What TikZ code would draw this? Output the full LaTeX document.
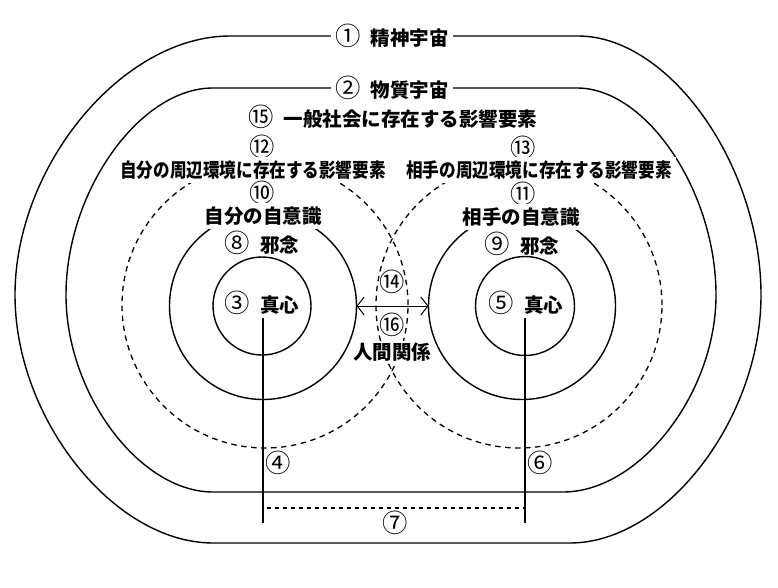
\documentclass[tikz,border=0pt]{standalone}
\usepackage{fontspec}
\usepackage{graphicx}
\setmainfont{Noto Sans CJK JP}
\usetikzlibrary{arrows.meta}
\newcommand{\circnum}[1]{{\mdseries\scalebox{1.3}{#1}}}
\newcommand{\cgap}{\hspace{0.5em}}
\begin{document}
\begin{tikzpicture}[x=1pt,y=-1pt,
  solidline/.style={line width=1.4pt},
  dashline/.style={line width=1.3pt, dash pattern=on 5.5pt off 4.5pt},
  ring/.style={circle, draw, line width=1.4pt, inner sep=0pt, outer sep=0pt},
  lbl/.style={font=\fontsize{19.5}{22}\selectfont\bfseries, inner sep=0pt},
  cover/.style={lbl, fill=white, inner sep=4pt},
  arrowline/.style={line width=1pt, {Straight Barb[length=7pt,width=18pt]}-{Straight Barb[length=7pt,width=18pt]}}
]
\useasboundingbox (0,0) rectangle (778,588);
\fill[white] (0,0) rectangle (778,588);

% (1) spiritual universe
\draw[solidline] (230,36) -- (578,36)
  .. controls (669.5,36) and (761,165.5) .. (761,295)
  .. controls (761,419) and (665.5,543) .. (570,543)
  -- (213,543)
  .. controls (114,543) and (15,419) .. (15,295)
  .. controls (15,165.5) and (122.5,36) .. cycle;
% (2) material universe
\draw[solidline] (213,88) -- (577,88)
  .. controls (646.5,88) and (716,191.5) .. (716,295)
  .. controls (716,393.5) and (639.5,492) .. (563,492)
  -- (213,492)
  .. controls (139.5,492) and (66,393.5) .. (66,295)
  .. controls (66,191.5) and (139.5,88) .. cycle;

% surroundings (dashed)
\draw[dashline] (265,305) circle[radius=143pt];
\draw[dashline] (519,305) circle[radius=143pt];

% self-consciousness circles and cores
\node[ring, minimum size=187pt] (selfL) at (263,306) {};
\node[ring, minimum size=187pt] (selfR) at (522,306) {};
\node[ring, minimum size=98pt] (coreL) at (262,306) {};
\node[ring, minimum size=99pt] (coreR) at (525,306) {};

% relation arrow
\draw[arrowline] (selfL.east) -- (selfR.west);

% vertical lines and distance
\coordinate (top4) at (263,318);
\coordinate (bot4) at (263,523);
\coordinate (top6) at (525,318);
\coordinate (bot6) at (525,523);
\coordinate (d7a) at (267,508);
\coordinate (d7b) at (525,508);
\draw[solidline] (top4) -- (bot4);
\draw[solidline] (top6) -- (bot6);
\draw[line width=1.3pt, dash pattern=on 4pt off 4pt] (d7a) -- (d7b);

% labels
\node[cover] (n1) at (392,36) {\circnum{①}\cgap 精神宇宙};
\node[cover] (n2) at (392,88) {\circnum{②}\cgap 物質宇宙};
\node[lbl] (n15) at (393,117) {\circnum{⑮}\cgap 一般社会に存在する影響要素};
\node[lbl] (n12) at (262,147) {\circnum{⑫}};
\node[cover] (n12t) at (253,170) {\scalebox{0.85}[1]{自分の周辺環境に存在する影響要素}};
\node[lbl] (n13) at (523,148) {\circnum{⑬}};
\node[cover] (n13t) at (539,170) {\scalebox{0.85}[1]{相手の周辺環境に存在する影響要素}};
\node[lbl] (n10) at (262,193) {\circnum{⑩}};
\node[cover] (n10t) at (263,216) {自分の自意識};
\node[lbl] (n11) at (523,194) {\circnum{⑪}};
\node[cover] (n11t) at (521,217) {相手の自意識};
\node[lbl] (n8) at (262,243) {\circnum{⑧}\cgap 邪念};
\node[lbl] (n9) at (522,244) {\circnum{⑨}\cgap 邪念};
\node[lbl] (n3) at (262,303) {\circnum{③}\cgap 真心};
\node[lbl] (n5) at (526,303) {\circnum{⑤}\cgap 真心};
\node[lbl] (n14) at (392,282) {\circnum{⑭}};
\node[lbl] (n16) at (392,325) {\circnum{⑯}};
\node[cover, inner sep=2pt] (n16t) at (392,352) {人間関係};
\node[lbl] (n4) at (278,463) {\circnum{④}};
\node[lbl] (n6) at (540,463) {\circnum{⑥}};
\node[lbl] (n7) at (395,523) {\circnum{⑦}};
\end{tikzpicture}
\end{document}
